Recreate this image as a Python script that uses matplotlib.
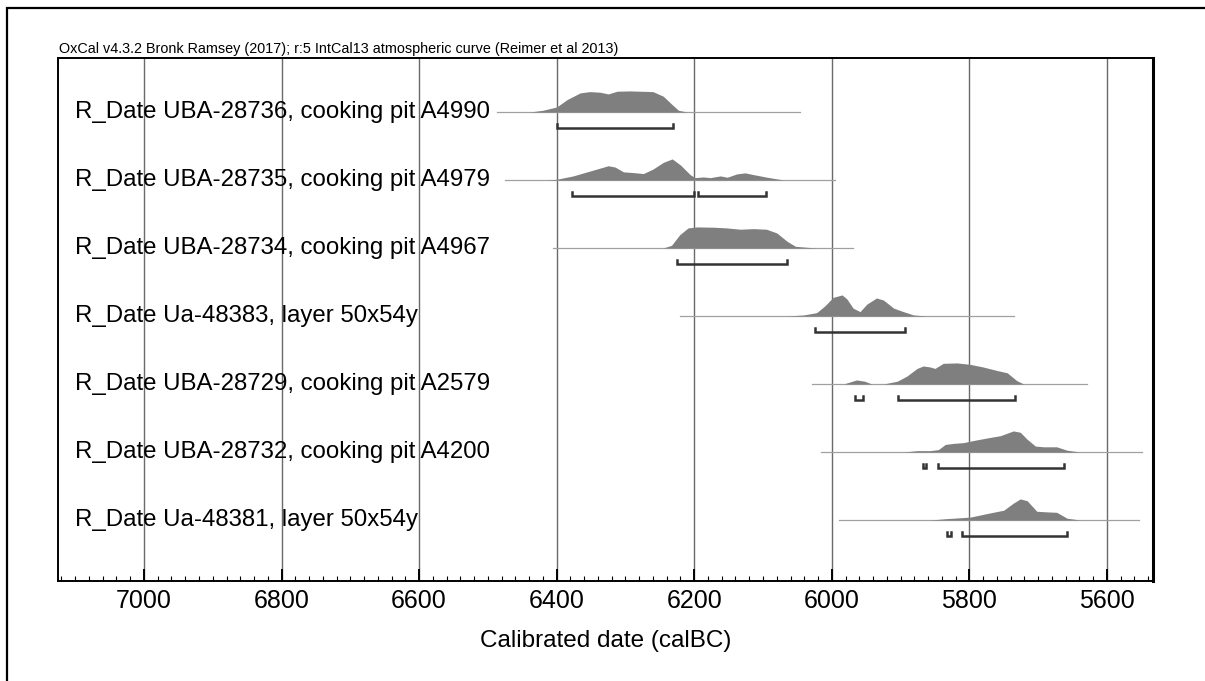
import numpy as np
import matplotlib.pyplot as plt
from matplotlib.patches import Rectangle
from matplotlib.ticker import MultipleLocator

plt.rcParams['font.family'] = ['Liberation Sans', 'DejaVu Sans']

header = "OxCal v4.3.2 Bronk Ramsey (2017); r:5 IntCal13 atmospheric curve (Reimer et al 2013)"

labels = [
    "R_Date UBA-28736, cooking pit A4990",
    "R_Date UBA-28735, cooking pit A4979",
    "R_Date UBA-28734, cooking pit A4967",
    "R_Date Ua-48383, layer 50x54y",
    "R_Date UBA-28729, cooking pit A2579",
    "R_Date UBA-28732, cooking pit A4200",
    "R_Date Ua-48381, layer 50x54y",
]

# calibrated probability curves (calBC, relative height)
r1_years = [6439, 6420, 6400, 6385, 6366, 6352, 6337, 6325, 6312, 6293, 6260, 6245, 6232, 6223, 6210]
r1_dens = [0, 1.7, 5, 12.3, 19, 20.3, 19.7, 18, 20.7, 21, 20.3, 15.7, 7.3, 1.7, 0]

r2_years = [6415, 6400, 6376, 6352, 6325, 6315, 6303, 6289, 6274, 6260, 6245, 6232, 6220, 6206,
            6199, 6187, 6177, 6162, 6152, 6138, 6126, 6114, 6094, 6070]
r2_dens = [0, 0.7, 4, 8.7, 14, 12.7, 8, 7.3, 6.3, 10.7, 17.3, 20.7, 14.7, 5.3,
           2.3, 3, 2.3, 4, 2.7, 6, 7, 5.3, 2.7, 0]

r3_years = [6245, 6233, 6221, 6209, 6196, 6172, 6153, 6133, 6114, 6095, 6080, 6065, 6053, 6036, 6022]
r3_dens = [0, 2.7, 13.3, 20, 21, 20.7, 20, 18.7, 19.3, 18.7, 15, 6.7, 1.7, 0.7, 0]

r4_years = [6065, 6041, 6022, 6010, 5998, 5985, 5978, 5969, 5959, 5949, 5935, 5925, 5910, 5896, 5881, 5862]
r4_dens = [0, 1, 3.3, 10, 18.3, 20.7, 16.7, 7.7, 4.3, 11.7, 17.7, 15.7, 7.7, 4.3, 1, 0]

r5_years = [5983, 5964, 5952, 5942, 5925, 5905, 5891, 5876, 5867, 5857, 5850, 5838, 5818, 5799,
            5780, 5760, 5745, 5731, 5721]
r5_dens = [0, 4, 2.7, 0, 0, 2.7, 7.7, 15.3, 17.7, 16.7, 15.3, 20.3, 20.7, 19.3,
           16.7, 13.3, 11, 3.3, 0]

r6_years = [5896, 5876, 5857, 5845, 5835, 5823, 5809, 5789, 5770, 5755, 5736, 5726, 5716, 5704,
            5692, 5673, 5658, 5639]
r6_dens = [0, 1.3, 1.3, 2.3, 7.3, 8.3, 9, 11.7, 14, 15.7, 20.3, 19, 12.3, 5.7,
           5, 5, 1.7, 0]

r7_years = [5857, 5833, 5799, 5770, 5750, 5736, 5726, 5716, 5702, 5687, 5673, 5658, 5639]
r7_dens = [0, 1.3, 2.7, 6.7, 9.3, 16, 20, 18.3, 8.3, 7.7, 7.3, 1.7, 0]

# extent of the thin baseline for each date
line_start = [6487, 6475, 6405, 6220, 6029, 6015, 5990]
line_end = [6046, 5995, 5969, 5735, 5629, 5549, 5554]

# 95.4% ranges
r1_ranges = [(6400, 6231)]
r2_ranges = [(6378, 6200), (6194, 6096)]
r3_ranges = [(6225, 6065)]
r4_ranges = [(6025, 5894)]
r5_ranges = [(5966, 5955), (5904, 5734)]
r6_ranges = [(5868, 5863), (5845, 5663)]
r7_ranges = [(5833, 5827), (5810, 5658)]

curves = [(r1_years, r1_dens), (r2_years, r2_dens), (r3_years, r3_dens), (r4_years, r4_dens),
          (r5_years, r5_dens), (r6_years, r6_dens), (r7_years, r7_dens)]
ranges = [r1_ranges, r2_ranges, r3_ranges, r4_ranges, r5_ranges, r6_ranges, r7_ranges]

fig = plt.figure(figsize=(12.05, 6.81), dpi=100)
ax = fig.add_axes([58 / 1205, 1 - 581 / 681, 1095 / 1205, 523 / 681])

peak_h = 0.31
br_off = 0.235
cap = 0.055

for i, (yrs, dens) in enumerate(curves):
    d = np.array(dens, dtype=float)
    d = d / d.max() * peak_h
    ax.plot([line_start[i], line_end[i]], [i, i], color='#a0a0a0', lw=0.9, zorder=2)
    ax.fill_between(yrs, i, i - d, color='#7f7f7f', lw=0, zorder=3)
    yb = i + br_off
    for a, b in ranges[i]:
        ax.plot([a, a, b, b], [yb - cap, yb, yb, yb - cap], color='#333333', lw=1.8,
                solid_joinstyle='miter', zorder=4)
    ax.text(7100, i, labels[i], fontsize=17.3, va='center', ha='left', color='black', zorder=5)

ax.set_xlim(7125, 5533)
ax.set_ylim(6.897, -0.794)
ax.xaxis.set_major_locator(MultipleLocator(200))
ax.xaxis.set_minor_locator(MultipleLocator(20))
ax.grid(True, axis='x', which='major', color='#6a6a6a', lw=1.0, zorder=1)
ax.set_yticks([])
ax.tick_params(axis='x', which='major', direction='in', length=8.5, width=1.4,
               labelsize=18, pad=6, top=False)
ax.tick_params(axis='x', which='minor', direction='in', length=3.5, width=0.8, top=False)
ax.set_xlabel("Calibrated date (calBC)", fontsize=17.5, labelpad=12)
for side in ['left', 'top', 'bottom']:
    ax.spines[side].set_linewidth(1.4)
ax.spines['right'].set_linewidth(2.2)

fig.text(59 / 1205, 1 - 53.4 / 681, header, fontsize=10.4, va='baseline', ha='left')

# outer frame
fig.add_artist(Rectangle((6.5 / 1205, -0.05), 1.2, 1 - 8.4 / 681 + 0.05, transform=fig.transFigure,
                         fill=False, edgecolor='black', lw=1.6, clip_on=False))

plt.savefig("out.png", dpi=100)
